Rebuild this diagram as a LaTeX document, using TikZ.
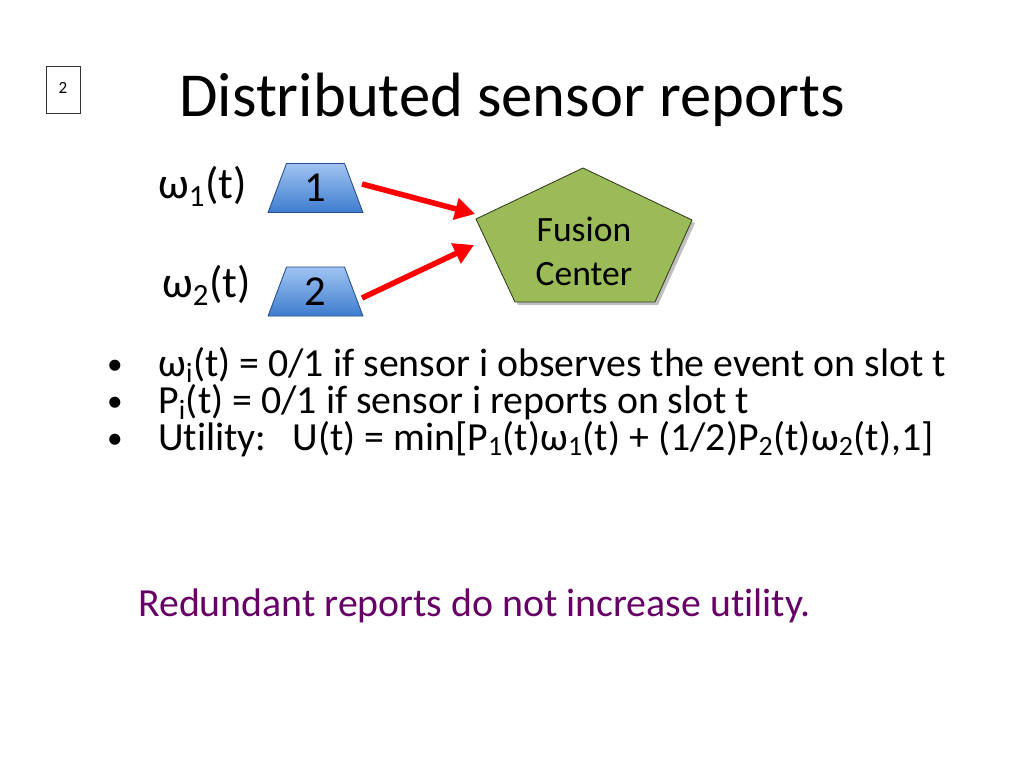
\documentclass[tikz,border=0pt]{standalone}
\usepackage{fontspec}
\setmainfont[Ligatures=NoCommon]{Carlito}
\usetikzlibrary{arrows.meta,shapes.geometric}
\definecolor{boxtop}{RGB}{160,196,242}
\definecolor{boxbot}{RGB}{62,124,206}
\definecolor{boxline}{RGB}{40,78,140}
\definecolor{fusegreen}{RGB}{155,187,89}
\definecolor{fuseline}{RGB}{50,60,30}
\definecolor{notepurple}{RGB}{102,0,102}
\tikzset{
  sensorbox/.style={trapezium, trapezium stretches=true, trapezium left angle=76, trapezium right angle=76,
    minimum width=66.8pt, minimum height=34.5pt, inner sep=0pt, draw=boxline, line width=0.6pt,
    top color=boxtop, bottom color=boxbot, font=\fontsize{30}{36}\selectfont},
  report/.style={draw=red, line width=3.9pt, -{Triangle[length=14pt,width=15pt]}},
  bodytext/.style={anchor=base west, inner sep=0pt, font=\fontsize{28}{34}\selectfont},
  bulletmark/.style={anchor=base, inner sep=0pt, font=\fontsize{22}{26}\selectfont},
  omegalabel/.style={anchor=base west, inner sep=0pt, font=\fontsize{31}{37}\selectfont}
}
\begin{document}
\begin{tikzpicture}[x=0.703125pt,y=-0.703125pt]
\useasboundingbox (0,0) rectangle (1024,768);
\fill[white] (0,0) rectangle (1024,768);

% page number box
\draw[line width=0.5pt, draw=black!80] (46,66) rectangle (80,113);
\node[inner sep=0pt, font=\fontsize{12}{14}\selectfont] (pnum) at (63,88) {2};

% title
\node[anchor=base, inner sep=0pt, font=\fontsize{44}{53}\selectfont] (title) at (512,117) {Distributed sensor reports};

% labels
\node[omegalabel] (w1) at (158,199) {ω\textsubscript{1}(t)};
\node[omegalabel] (w2) at (162,298) {ω\textsubscript{2}(t)};

% sensor boxes
\node[sensorbox] (s1) at (315.5,188) {\raisebox{-3pt}{1}};
\node[sensorbox] (s2) at (315.5,291.5) {\raisebox{-3pt}{2}};

% fusion center pentagon
\coordinate (pt) at (583,168);
\coordinate (pl) at (476,219);
\coordinate (pr) at (692,220);
\coordinate (pbl) at (515,302);
\coordinate (pbr) at (655,302);
\fill[black!25] ([shift={(3,3)}]pt) -- ([shift={(3,3)}]pr) -- ([shift={(3,3)}]pbr) -- ([shift={(3,3)}]pbl) -- ([shift={(3,3)}]pl) -- cycle;
\draw[fill=fusegreen, draw=fuseline, line width=0.6pt] (pt) -- (pr) -- (pbr) -- (pbl) -- (pl) -- cycle;
\node[anchor=base, inner sep=0pt, font=\fontsize{25}{30}\selectfont] (fc1) at (584,242) {Fusion};
\node[anchor=base, inner sep=0pt, font=\fontsize{25}{30}\selectfont] (fc2) at (584,286) {Center};

% arrows
\coordinate (a1s) at (362,184);
\coordinate (a1e) at (475,214);
\coordinate (a2s) at (362,298);
\coordinate (a2e) at (474,245);
\draw[report] (a1s) -- (a1e);
\draw[report] (a2s) -- (a2e);

% bullets
\node[bulletmark] (d1) at (115,374) {•};
\node[bulletmark] (d2) at (115,411) {•};
\node[bulletmark] (d3) at (115,448) {•};
\node[bodytext] (t1) at (158,376) {ω\textsubscript{i}(t) = 0/1 if sensor i observes the event on slot t};
\node[bodytext] (t2) at (158,413) {P\textsubscript{i}(t) = 0/1 if sensor i reports on slot t};
\node[bodytext] (t3) at (158,450) {Utility:\hspace{0.65em}U(t) = min[P\textsubscript{1}(t)ω\textsubscript{1}(t) + (1/2)P\textsubscript{2}(t)ω\textsubscript{2}(t),1]};

% note
\node[bodytext, text=notepurple] (note) at (138,616) {Redundant reports do not increase utility.};
\end{tikzpicture}
\end{document}
